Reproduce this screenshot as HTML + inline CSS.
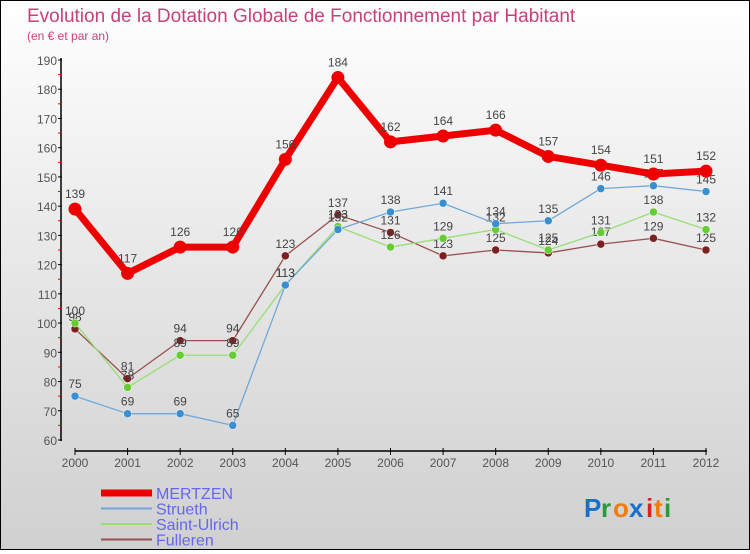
<!DOCTYPE html>
<html><head><meta charset="utf-8">
<style>
html,body{margin:0;padding:0;}
body{width:750px;height:550px;overflow:hidden;font-family:"Liberation Sans",sans-serif;}
#wrap{position:relative;width:748px;height:548px;border:1px solid #000;background:linear-gradient(#ffffff,#e4e4e4 55%,#d0d0d0);}
</style></head><body>
<div id="wrap">
<svg id="svg" width="748" height="548" xmlns="http://www.w3.org/2000/svg">
<text x="26" y="21" font-size="19" fill="#c8407a">Evolution de la Dotation Globale de Fonctionnement par Habitant</text>
<text x="26" y="39" font-size="12" fill="#c8407a">(en € et par an)</text>
<g id="axes"></g>
<g id="series"></g>
<g id="legend"></g>
<g font-size="26" font-weight="bold" font-family="'Liberation Sans',sans-serif">
<text x="583" y="516" fill="#1a6fc9">P</text><text x="600" y="516" fill="#2a9a3a">r</text><text x="612" y="516" fill="#f07c10">o</text><text x="628" y="516" fill="#1a6fc9">x</text><text x="645" y="516" fill="#e02020">i</text><text x="653" y="516" fill="#f07c10">t</text><text x="663" y="516" fill="#2a9a3a">i</text>
</g>
</svg>
</div>
<script>
const years=[2000,2001,2002,2003,2004,2005,2006,2007,2008,2009,2010,2011,2012];
const mertzen=[139,117,126,126,156,184,162,164,166,157,154,151,152];
const strueth=[75,69,69,65,113,132,138,141,134,135,146,147,145];
const saintUlrich=[100,78,89,89,113,133,126,129,132,125,131,138,132];
const fulleren=[98,81,94,94,123,137,131,123,125,124,127,129,125];
const yTicks=[60,70,80,90,100,110,120,130,140,150,160,170,180,190];
const seriesNames=["MERTZEN","Strueth","Saint-Ulrich","Fulleren"];

const NS="http://www.w3.org/2000/svg";
function xs(i){return 74+i*(705-74)/(years.length-1);}
function ys(v){return 439-(v-60)*(439-59)/130;}
function mk(tag,attrs,parent){const e=document.createElementNS(NS,tag);for(const k in attrs)e.setAttribute(k,attrs[k]);parent.appendChild(e);return e;}
const axes=document.getElementById('axes');
let yl=mk('line',{x1:60,y1:57,x2:60,y2:440,stroke:'#000','stroke-width':1.5},axes);


yTicks.forEach((t,i)=>{
  const y=ys(t);
  mk('line',{x1:57,y1:y,x2:61,y2:y,stroke:'#000'},axes);
  const tx=mk('text',{x:56,y:y+5,'text-anchor':'end','font-size':12,fill:'#555'},axes);
  tx.textContent=t;
  
  
  if(i<yTicks.length-1){mk('line',{x1:57,y1:ys(t+5),x2:60,y2:ys(t+5),stroke:'#e00'},axes);}
});
let xl=mk('line',{x1:74,y1:450,x2:706,y2:450,stroke:'#000','stroke-width':1.5},axes);


years.forEach((yr,i)=>{
  const x=xs(i);
  mk('line',{x1:x,y1:447,x2:x,y2:454,stroke:'#000'},axes);
  const tx=mk('text',{x:x,y:466,'text-anchor':'middle','font-size':12,fill:'#555'},axes);
  tx.textContent=yr;
  
  
});
const sg=document.getElementById('series');
const defs=[
 {d:fulleren,c:'#7a2020',lc:'#9a5050',w:1.3,r:4,name:'fulleren'},
 {d:saintUlrich,c:'#66cc33',lc:'#99dd77',w:1.3,r:4,name:'saint-ulrich'},
 {d:strueth,c:'#3a8fd0',lc:'#70a8d8',w:1.3,r:4,name:'strueth'},
 {d:mertzen,c:'#ee0000',lc:'#ee0000',w:7,r:6.5,name:'mertzen'}
];
defs.forEach(s=>{
  const g=mk('g',{},sg);
  
  
  const pts=s.d.map((v,i)=>xs(i)+','+ys(v)).join(' ');
  const pl=mk('polyline',{points:pts,fill:'none',stroke:s.lc,'stroke-width':s.w,'stroke-linejoin':'round'},g);
  
  
  s.d.forEach((v,i)=>{
    const c=mk('circle',{cx:xs(i),cy:ys(v),r:s.r,fill:s.c,stroke:s.r>5?'none':'#fff','stroke-width':0.5},g);
    
    
    const t=mk('text',{x:xs(i),y:ys(v)-(s.r>5?11:8),'text-anchor':'middle','font-size':12,fill:'#444'},g);
    t.textContent=v;
    
    
  });
});
const lg=document.getElementById('legend');
const lcols=['#ee0000','#70a8d8','#99dd77','#9a5050'];
const lw=[7,2,2,2];
seriesNames.forEach((n,i)=>{
  const y=492+i*15.5;
  const g=mk('g',{},lg);
  
  
  mk('line',{x1:100,y1:y,x2:151,y2:y,stroke:lcols[i],'stroke-width':lw[i]},g);
  const t=mk('text',{x:155,y:y+6,'font-size':16,fill:'#6666ee'},g);
  t.textContent=n;
});
</script>
</body></html>
